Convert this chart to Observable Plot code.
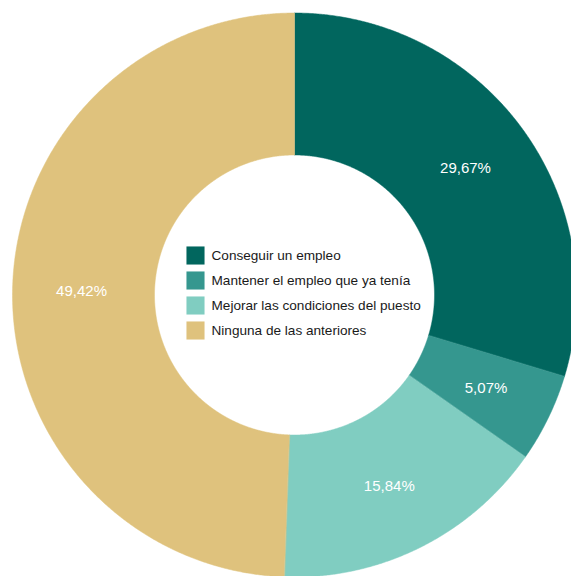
<!DOCTYPE html>
<html>
<head>
<meta charset="utf-8">
<script src="https://cdn.jsdelivr.net/npm/d3@7"></script>
<script src="https://cdn.jsdelivr.net/npm/@observablehq/plot@0.6"></script>
<style>
  html, body { margin: 0; padding: 0; background: #fff; }
  #chart { width: 571px; height: 576px; overflow: hidden; }
</style>
</head>
<body>
<div id="chart"></div>
<script>
// Data
const categories = ["Conseguir un empleo", "Mantener el empleo que ya tenía", "Mejorar las condiciones del puesto", "Ninguna de las anteriores"];
const values = [29.67, 5.07, 15.84, 49.42];
const labels = ["29,67%", "5,07%", "15,84%", "49,42%"];
const colors = ["#01665e", "#35978f", "#80cdc1", "#dfc27d"];

// Layout
const W = 571, H = 576;
const cx = 294, cy = 294.5;
const outerR = 282, innerR = 140, labelR = 213;

const pie = d3.pie().sort(null).value(d => d.value);
const arcs = pie(categories.map((c, i) => ({category: c, value: values[i], label: labels[i]})));

// Build polygon points for each slice (in data units centred on 0,0, y downward)
const polyPts = [];
arcs.forEach(a => {
  const n = Math.max(8, Math.ceil((a.endAngle - a.startAngle) / 0.005));
  const pts = [];
  for (let k = 0; k <= n; k++) {
    const t = a.startAngle + (a.endAngle - a.startAngle) * k / n;
    pts.push([outerR * Math.sin(t), -outerR * Math.cos(t)]);
  }
  for (let k = n; k >= 0; k--) {
    const t = a.startAngle + (a.endAngle - a.startAngle) * k / n;
    pts.push([innerR * Math.sin(t), -innerR * Math.cos(t)]);
  }
  pts.forEach((p, j) => polyPts.push({category: a.data.category, x: p[0], y: p[1], j}));
});

const centroids = arcs.map(a => {
  const m = (a.startAngle + a.endAngle) / 2;
  return {label: a.data.label, x: labelR * Math.sin(m), y: -labelR * Math.cos(m)};
});

const legendRows = categories.map((c, i) => ({category: c, i}));
const legendX = -99, legendTextX = -83, legendY0 = -39.5, legendStep = 25;

const plot = Plot.plot({
  width: W,
  height: H,
  margin: 0,
  x: {domain: [-cx, W - cx], range: [0, W], axis: null},
  y: {domain: [-cy, H - cy], range: [0, H], axis: null},
  color: {domain: categories, range: colors},
  style: {fontFamily: "'Liberation Sans', Arial, Helvetica, sans-serif", background: "#fff"},
  marks: [
    Plot.line(polyPts, {x: "x", y: "y", z: "category", fill: "category", stroke: "category", strokeWidth: 0.5, curve: "linear-closed"}),
    Plot.text(centroids, {x: "x", y: "y", text: "label", fill: "white", fontSize: 15}),
    Plot.dot(legendRows, {x: () => legendX, y: d => legendY0 + d.i * legendStep, fill: "category", symbol: "square", r: 10.2, stroke: null}),
    Plot.text(legendRows, {x: () => legendTextX, y: d => legendY0 + d.i * legendStep, text: "category", textAnchor: "start", fill: "#1a1a1a", fontSize: 13.6})
  ]
});
document.getElementById("chart").appendChild(plot);
</script>
</body>
</html>
